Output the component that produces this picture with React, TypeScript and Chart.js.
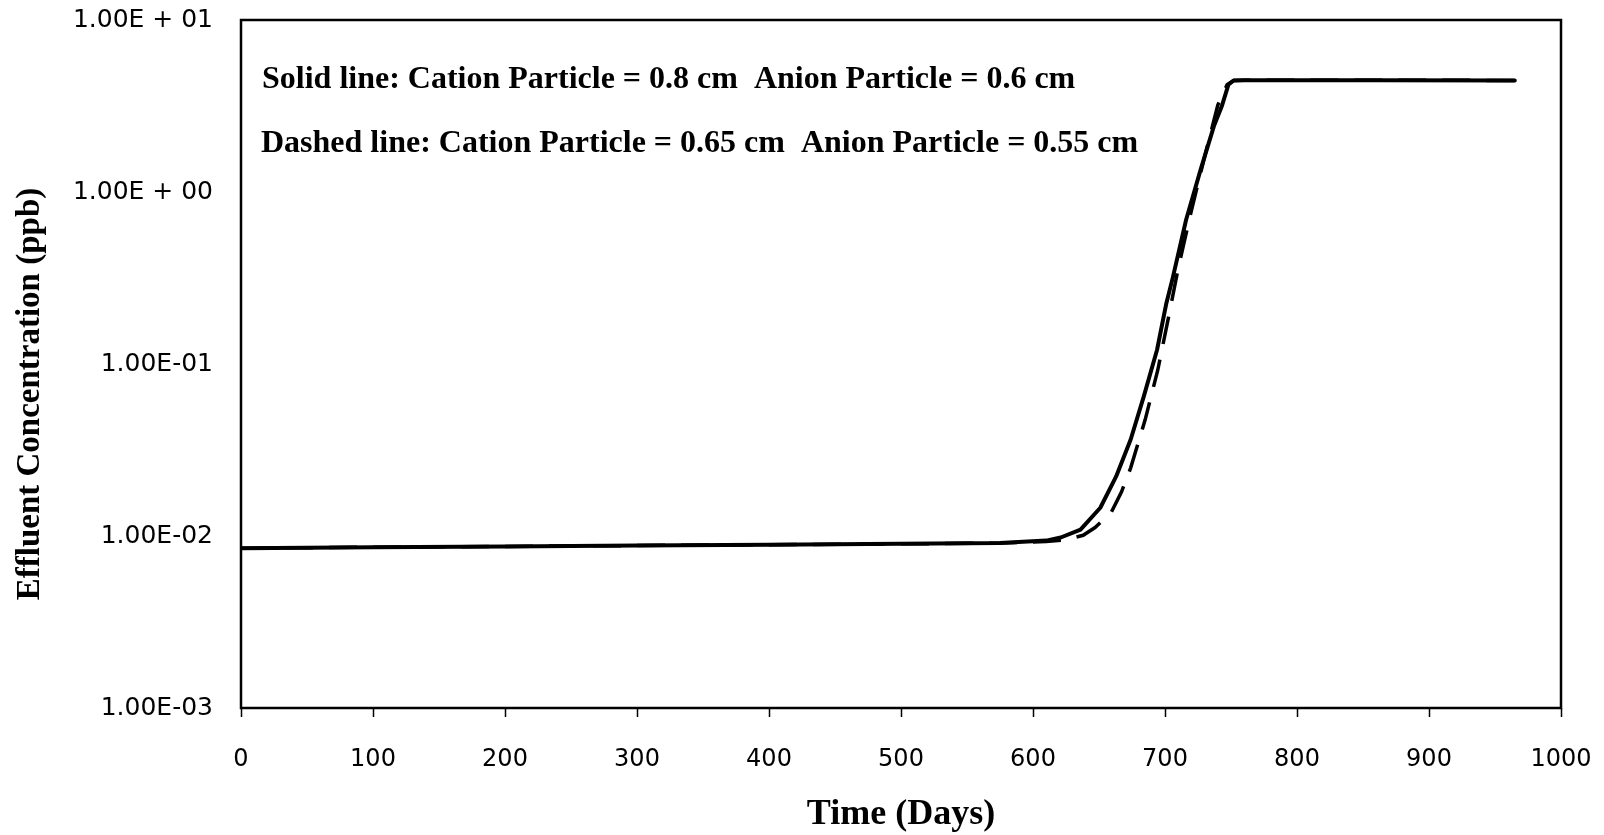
import { useEffect, useRef } from "react";
import { Chart, registerables } from "chart.js";

Chart.register(...registerables);

// Effluent concentration (ppb) over time (days)
const solidDays = [0, 100, 200, 300, 400, 500, 575, 610, 621, 636, 651, 663, 674, 684, 694, 701, 706, 716, 727, 737, 743, 748, 752, 760, 860, 965];
const solidConc = [0.0085, 0.0086, 0.0087, 0.0088, 0.0089, 0.009, 0.0091, 0.0094, 0.0098, 0.0109, 0.0146, 0.0222, 0.0364, 0.065, 0.121, 0.225, 0.32, 0.69, 1.35, 2.41, 3.15, 4.2, 4.45, 4.47, 4.47, 4.45];

const dashedDays = [0, 100, 200, 300, 400, 500, 575, 610, 625, 638, 647, 659, 667, 674, 685, 694.5, 702.5, 710, 720, 730, 740, 747, 752, 760, 860, 965];
const dashedConc = [0.0085, 0.0086, 0.0087, 0.0088, 0.0089, 0.009, 0.0091, 0.0093, 0.0095, 0.0101, 0.0112, 0.0136, 0.018, 0.0249, 0.0475, 0.092, 0.184, 0.36, 0.78, 1.6, 3.2, 4.2, 4.45, 4.47, 4.47, 4.45];

const xMin = 0;
const xMax = 1000;
const xStep = 100;

const yTickValues = [0.001, 0.01, 0.1, 1, 10];
const yTickLabels = ["1.00E-03", "1.00E-02", "1.00E-01", "1.00E + 00", "1.00E + 01"];

const noteLines = [
  "Solid line: Cation Particle = 0.8 cm  Anion Particle = 0.6 cm",
  "Dashed line: Cation Particle = 0.65 cm  Anion Particle = 0.55 cm",
];
const xTitle = "Time (Days)";
const yTitle = "Effluent Concentration (ppb)";

const serifBold = "'Liberation Serif', 'Times New Roman', serif";
const sans = "'DejaVu Sans', sans-serif";

// Plot frame, short outward x tick marks, notes and axis titles
const framePlugin = {
  id: "frameAndText",
  beforeDatasetsDraw(chart: any) {
    const { ctx, chartArea: a } = chart;
    const xs = chart.scales.x;
    ctx.save();
    ctx.strokeStyle = "#000";
    ctx.lineWidth = 1.5;
    ctx.beginPath();
    for (const t of xs.ticks) {
      const px = Math.round(xs.getPixelForValue(t.value)) + 0.5;
      ctx.moveTo(px, a.bottom);
      ctx.lineTo(px, a.bottom + 9);
    }
    ctx.stroke();
    ctx.lineWidth = 2.5;
    ctx.strokeRect(a.left, a.top, a.right - a.left, a.bottom - a.top);
    ctx.restore();
  },
  afterDraw(chart: any) {
    const { ctx, chartArea: a } = chart;
    ctx.save();
    ctx.fillStyle = "#000";

    ctx.font = `bold 32px ${serifBold}`;
    ctx.textAlign = "left";
    ctx.textBaseline = "alphabetic";
    ctx.fillText(noteLines[0], a.left + 21, a.top + 68);
    ctx.fillText(noteLines[1], a.left + 20, a.top + 132);

    ctx.font = `bold 36px ${serifBold}`;
    ctx.textAlign = "center";
    ctx.textBaseline = "middle";
    ctx.fillText(xTitle, (a.left + a.right) / 2, a.bottom + 107);

    ctx.font = `bold 33px ${serifBold}`;
    ctx.translate(30, (a.top + a.bottom) / 2 + 30);
    ctx.rotate(-Math.PI / 2);
    ctx.fillText(yTitle, 0, 0);
    ctx.restore();
  },
};

export default function App() {
  const canvasRef = useRef<HTMLCanvasElement | null>(null);

  useEffect(() => {
    if (!canvasRef.current) return;
    const chart = new Chart(canvasRef.current, {
      type: "line",
      data: {
        datasets: [
          {
            label: "Solid",
            data: solidDays.map((d, i) => ({ x: d, y: solidConc[i] })),
            borderColor: "#000",
            borderWidth: 4,
            pointRadius: 0,
            tension: 0,
            borderJoinStyle: "round",
            borderCapStyle: "round",
          },
          {
            label: "Dashed",
            data: dashedDays.map((d, i) => ({ x: d, y: dashedConc[i] })),
            borderColor: "#000",
            borderWidth: 3.5,
            borderDash: [28, 16],
            pointRadius: 0,
            tension: 0,
          },
        ],
      },
      options: {
        animation: false,
        responsive: true,
        maintainAspectRatio: false,
        devicePixelRatio: 1,
        layout: { padding: { top: 20, right: 43, left: 0, bottom: 0 } },
        plugins: {
          legend: { display: false },
          tooltip: { enabled: false },
        },
        scales: {
          x: {
            type: "linear",
            min: xMin,
            max: xMax,
            ticks: {
              stepSize: xStep,
              color: "#000",
              font: { family: sans, size: 24, lineHeight: 1 },
              padding: 0,
              maxRotation: 0,
              autoSkip: false,
              callback: (v: any) => String(v),
            },
            grid: {
              display: true,
              drawOnChartArea: false,
              drawTicks: true,
              tickLength: 40,
              tickColor: "rgba(0,0,0,0)",
            },
            border: { display: false },
            afterFit: (s: any) => {
              s.height = 127;
            },
          },
          y: {
            type: "logarithmic",
            min: 0.001,
            max: 10,
            afterBuildTicks: (s: any) => {
              s.ticks = yTickValues.map((v) => ({ value: v }));
            },
            ticks: {
              color: "#000",
              font: { family: sans, size: 25, lineHeight: 1 },
              padding: 0,
              callback: (v: any) => {
                const i = yTickValues.findIndex((t) => Math.abs(Math.log10(t) - Math.log10(Number(v))) < 1e-6);
                return i >= 0 ? yTickLabels[i] : "";
              },
            },
            grid: {
              display: true,
              drawOnChartArea: false,
              drawTicks: true,
              tickLength: 28,
              tickColor: "rgba(0,0,0,0)",
            },
            border: { display: false },
            afterFit: (s: any) => {
              s.width = 241;
            },
          },
        },
      },
      plugins: [framePlugin],
    });
    return () => chart.destroy();
  }, []);

  return (
    <div style={{ position: "fixed", left: 0, top: 0, width: "1604px", height: "835px" }}>
      <canvas ref={canvasRef} />
    </div>
  );
}
